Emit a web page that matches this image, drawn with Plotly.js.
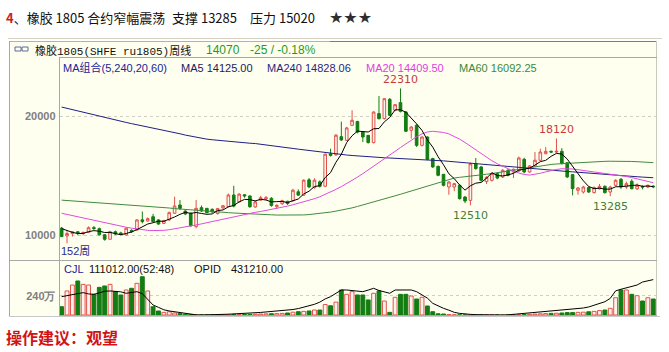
<!DOCTYPE html>
<html><head><meta charset="utf-8">
<script src="https://cdn.plot.ly/plotly-3.0.1.min.js"></script>
<style>html,body{margin:0;padding:0;background:#fff;}#chart{width:669px;height:352px;}</style>
</head><body><div id="chart"></div>
<script>
// ---- data (weekly, ru1805) ----
const weeks = Array.from({length:111},(_,i)=>i);
const openP = [10600,9950,10150,10300,10150,10250,10640,10560,10050,9670,10300,10200,10030,10420,10450,11300,11200,11560,11290,11000,
11290,11850,12540,12040,11850,10730,12320,12260,12180,11820,12300,12400,13380,12800,13400,13300,12380,12950,13050,13100,
12400,12650,12850,12900,13650,13370,14650,14000,14480,14110,16840,16750,18270,17960,19220,19540,18660,18380,17770,20200,
19780,21400,20480,21120,20340,18800,19220,17540,18240,16430,15780,15110,14050,14050,14190,13210,12930,16000,15730,14500,
14610,15170,14890,15450,15310,15390,16370,15310,15810,16290,16840,17040,16980,17040,16090,15090,13770,13630,14000,13580,
13900,14100,13630,14190,14700,14050,14530,13900,14080,14050,14120];
const highP = [10700,10400,10350,10350,10300,10750,10780,10650,10100,10380,10400,10300,10650,10500,11350,12000,11500,11800,11350,11300,
12000,13240,12960,12100,11900,12960,12500,12300,12250,12300,12550,13500,14150,13550,13450,13350,12950,13300,13300,13200,
12600,12980,12900,13900,13850,14700,14800,14780,14600,16850,17260,18500,19530,19100,20480,19600,18700,18400,20400,21680,
21500,21500,21000,22310,20400,19150,19300,18300,18300,16500,15850,15150,14550,14400,14250,13300,16100,16480,15800,14950,
15300,15250,15550,15550,15600,16600,16500,15900,16980,17260,17400,17100,18120,17300,16100,15100,14050,14150,14100,14100,
14300,14200,14150,14700,14800,14500,14700,14350,14200,14250,14200];
const lowP = [9860,9330,9900,10000,10000,10200,10450,9980,9550,9640,10030,10050,9980,10200,10400,11000,11150,11100,10880,10950,
11200,11800,12120,11700,10700,10600,11950,11850,11900,11750,12200,12350,12350,12750,13150,12300,12300,12900,12950,12400,
12200,12550,12550,12850,13300,13300,13950,13900,14000,14050,16600,16650,17900,17900,19150,18550,17820,17700,17700,19700,
19700,20000,20400,20300,18650,18100,17400,17450,16300,15650,14950,14100,13400,13700,13000,12700,12510,15500,14500,14300,
14500,14700,14800,14950,14800,15300,15200,15250,15750,16200,16800,16900,16900,15950,14800,13350,13400,13500,13550,13500,
13850,13500,13285,14100,13900,13900,13850,13800,13850,13950,13950];
const closeP = [9890,10150,10300,10200,10250,10640,10580,10050,9670,10300,10110,10110,10590,10300,11290,11150,11400,11150,10950,11230,
11900,12460,12260,11790,10810,12260,12040,11900,11960,12240,12480,13380,12450,13450,13300,12400,12800,13150,13150,12500,
12520,12900,12660,13780,13370,14620,14060,14620,14110,16800,16700,18390,17990,19000,19640,18650,18240,17770,20330,19780,
21450,20060,20950,20390,18720,19080,17540,18240,16370,15730,15030,14190,14470,14330,13070,12880,16000,15590,14610,14860,
15170,14800,15450,15030,15530,16480,15310,15810,16290,16980,17040,16980,17040,16010,14890,13910,13970,14050,13630,14000,
14100,13580,14050,14610,14050,14330,13910,14190,14050,14190,14070];
const ma5 = [10560,10400,10250,10150,10158,10308,10394,10344,10238,10248,10142,10048,10156,10282,10480,10688,10946,11058,11188,11176,
11326,11538,11760,11928,11844,11916,11832,11760,11794,12080,12124,12392,12502,12800,13012,12996,12880,13020,12960,12800,
12824,12844,12746,12872,13046,13466,13698,14090,14156,14842,15258,16124,16798,17776,18344,18734,18704,18660,18926,18954,
19514,19878,20514,20526,20314,19840,19336,18794,17990,17392,16582,15912,15158,14750,14218,13788,14150,14374,14430,14788,
15246,15006,14978,15062,15196,15458,15560,15632,15884,16174,16286,16620,16866,16810,16392,15766,15164,14566,14090,13912,
13950,13872,13872,14068,14078,14124,14190,14218,14106,14134,14082];
const ma20 = [11850,11750,11650,11550,11440,11330,11230,11130,11030,10930,10840,10760,10680,10600,10530,10470,10420,10400,10400,10420,
10470,10540,10620,10700,10780,10870,10960,11060,11160,11260,11360,11460,11560,11660,11760,11850,11930,12000,12080,12160,
12250,12350,12450,12560,12680,12800,12930,13070,13230,13420,13630,13850,14080,14330,14600,14880,15170,15470,15780,16090,
16400,16720,17040,17360,17670,17980,18260,18500,18660,18720,18700,18620,18500,18300,18060,17780,17480,17160,16840,16520,
16250,16000,15780,15560,15380,15220,15100,15050,15100,15200,15320,15430,15520,15580,15590,15560,15500,15440,15380,15320,
15260,15200,15140,15080,15010,14930,14840,14740,14640,14530,14410];
const ma60 = [12950,12920,12890,12860,12830,12800,12770,12740,12710,12680,12650,12620,12590,12560,12530,12500,12460,12420,12380,12340,
12290,12240,12200,12160,12120,12080,12050,12020,11990,11960,11930,11900,11870,11840,11815,11800,11780,11760,11740,11720,
11700,11690,11680,11680,11690,11710,11740,11780,11830,11880,11950,12030,12110,12200,12300,12420,12540,12660,12780,12900,
13030,13160,13300,13440,13580,13720,13860,14000,14150,14300,14440,14580,14700,14800,14860,14900,14950,15000,15060,15120,
15180,15250,15330,15420,15500,15580,15650,15720,15790,15850,15900,15940,15980,16010,16040,16070,16100,16130,16150,16170,
16190,16200,16210,16220,16220,16210,16190,16170,16140,16120,16092];
const ma240 = [20750,20640,20530,20420,20300,20190,20060,19950,19840,19740,19650,19560,19460,19360,19270,19170,19080,18990,18930,18830,
18730,18620,18510,18400,18300,18200,18120,18060,18010,17960,17920,17880,17840,17800,17760,17720,17690,17640,17580,17520,
17460,17400,17340,17280,17220,17160,17110,17050,16990,16940,16880,16830,16780,16730,16690,16650,16610,16580,16550,16520,
16500,16480,16460,16440,16420,16400,16390,16370,16340,16300,16270,16240,16200,16160,16120,16070,16030,15990,15950,15900,
15860,15820,15770,15730,15700,15670,15630,15600,15570,15530,15500,15460,15420,15390,15350,15320,15280,15250,15210,15180,
15140,15110,15070,15030,15000,14970,14940,14910,14880,14850,14828];
// volume (万) and open interest line
const volume = [103,299,373,423,381,373,257,344,361,381,290,249,311,332,394,476,299,103,50,33,
40,25,20,10,6,4,2,1,1,2,3,4,5,5,6,8,10,12,14,16,
18,20,25,35,41,45,50,62,62,130,115,160,311,257,290,249,249,187,270,299,
174,33,220,257,257,236,199,220,112,41,15,12,6,3,2,1,1,1,0,0,
0,0,0,1,2,3,5,8,12,15,18,20,22,25,30,30,33,35,40,45,
55,62,83,215,311,311,257,240,174,215,199];
const openInt = [228,240,255,268,278,262,257,275,295,299,295,288,270,280,290,265,200,124,95,65,
50,40,33,20,8,2,0,0,0,5,8,10,12,15,20,23,27,32,38,43,
47,52,57,68,80,95,110,133,160,200,228,270,311,311,305,298,290,310,332,305,
290,270,311,311,311,311,290,250,210,145,110,83,60,33,20,10,8,4,2,0,
0,0,0,2,8,15,25,33,38,42,46,50,54,62,70,78,85,87,100,120,
140,165,207,300,320,335,350,373,410,425,440];
const priceTicks = [10000,20000];
const volTicks = [240];
const volTickText = ['240万'];
const extremes = [{i:63,kind:'high'},{i:92,kind:'high'},{i:76,kind:'low'},{i:102,kind:'low'}];
const ratingText = '★★★';

// ---- style ----
const W=669,H=352;
const X=p=>p/W, Y=p=>1-p/H;
const RED='#e0524a', RED_FILL='#fff3ee', GREEN='#137d13';
const CREAM='#fffff0';
const LAT='Liberation Sans, Noto Sans CJK SC, sans-serif';
const CJK='Noto Sans CJK SC, sans-serif';

const up = closeP.map((c,i)=>c>=openP[i]);
const traces = [
 {type:'candlestick',x:weeks,open:openP,high:highP,low:lowP,close:closeP,xaxis:'x',yaxis:'y',
  increasing:{line:{color:RED,width:1},fillcolor:RED_FILL},
  decreasing:{line:{color:GREEN,width:1},fillcolor:GREEN},whiskerwidth:0,hoverinfo:'skip'},
 {type:'scatter',mode:'lines',x:weeks,y:ma240,line:{color:'#1f1f84',width:1},xaxis:'x',yaxis:'y',hoverinfo:'skip'},
 {type:'scatter',mode:'lines',x:weeks,y:ma60,line:{color:'#3f8a3f',width:1},xaxis:'x',yaxis:'y',hoverinfo:'skip'},
 {type:'scatter',mode:'lines',x:weeks,y:ma20,line:{color:'#e04ae0',width:1},xaxis:'x',yaxis:'y',hoverinfo:'skip'},
 {type:'scatter',mode:'lines',x:weeks,y:ma5,line:{color:'#000000',width:1},xaxis:'x',yaxis:'y',hoverinfo:'skip'},
 {type:'bar',x:weeks,y:volume,xaxis:'x2',yaxis:'y2',
  marker:{color:up.map(u=>u?RED_FILL:GREEN),line:{color:up.map(u=>u?RED:GREEN),width:1}},hoverinfo:'skip'},
 {type:'scatter',mode:'lines',x:weeks,y:openInt,xaxis:'x2',yaxis:'y2',line:{color:'#000',width:1},hoverinfo:'skip'}
];

function txt(x,y,text,size,color,family,extra){
  return Object.assign({xref:'paper',yref:'paper',x:X(x),y:Y(y),text:text,showarrow:false,
    xanchor:'left',yanchor:'middle',borderpad:0,font:{family:family||LAT,size:size||11,color:color||'#000'}},extra||{});
}
const annotations = [
  txt(5,17,'<span style="color:#cc1f1f;font-weight:bold">4</span>、橡胶 1805 合约窄幅震荡',13,'#111',CJK),
  txt(171,17,'支撑 13285',13,'#111',CJK),
  txt(249,17,'压力 15020',13,'#111',CJK),
  txt(328,17,ratingText,16,'#2e2e2e','DejaVu Sans, sans-serif'),
  txt(34,50,'橡胶<span style="font-family:Liberation Mono">1805(SHFE ru1805)</span>周线',11,'#111',CJK),
  txt(205,50,'14070',12,'#1e9a1e',LAT),
  txt(249,50,'-25 / -0.18%',12,'#1e9a1e',LAT),
  txt(62,68,'MA组合(5,240,20,60)',11,'#22229a',LAT),
  txt(180,68,'MA5 14125.00',11,'#1a1a60',LAT),
  txt(266,68,'MA240 14828.06',11,'#1f1f84',LAT),
  txt(365,68,'MA20 14409.50',11,'#e040e0',LAT),
  txt(458,68,'MA60 16092.25',11,'#3a8a3a',LAT),
  txt(60,251,'152周',11,'#2a2a8a',LAT),
  txt(63,269,'CJL',11,'#22229a',LAT),
  txt(88,269,'111012.00(52:48)',11,'#111',LAT),
  txt(193,269,'OPID',11,'#111',LAT),
  txt(230,269,'431210.00',11,'#111',LAT),
  txt(5,337,'<b>操作建议：观望</b>',16,'#d01414',CJK)
];
extremes.forEach(e=>{
  const isHigh = e.kind==='high';
  annotations.push({xref:'x',yref:'y',x:e.i,y:isHigh?highP[e.i]:lowP[e.i],
    text:String(isHigh?highP[e.i]:lowP[e.i]),showarrow:false,
    xanchor:'center',yanchor:isHigh?'bottom':'top',yshift:isHigh?1:-3,borderpad:0,
    font:{family:'DejaVu Sans, sans-serif',size:11,color:isHigh?'#c83a3a':'#3d7f3d'}});
});

function hline(y,x0,x1,color){return {type:'line',xref:'paper',yref:'paper',x0:X(x0),x1:X(x1),y0:Y(y),y1:Y(y),line:{color:color,width:1}};}
function vline(x,y0,y1,color){return {type:'line',xref:'paper',yref:'paper',x0:X(x),x1:X(x),y0:Y(y0),y1:Y(y1),line:{color:color,width:1}};}
const shapes = [
  {type:'rect',xref:'paper',yref:'paper',x0:X(9),x1:X(660),y0:Y(41),y1:Y(316),fillcolor:CREAM,line:{width:0},layer:'below'},
  hline(38.5,8,662,'#d8d2c2'),
  hline(41.5,9,330,'#b8b0a8'),
  hline(41.5,330,657,'#cc5a5a'),
  vline(9.5,41,316,'#a8a8a8'),
  vline(59.5,58,316,'#a8a8a8'),
  vline(656.5,41,316,'#c8c8c8'),
  hline(57.5,59,657,'#a8a8a8'),
  hline(260.5,9,657,'#a8a8a8'),
  hline(315.5,59,657,'#a8a8a8'),
  hline(316.5,9,660,'#c8c8c8'),
  {type:'rect',xref:'paper',yref:'paper',x0:X(15),x1:X(21),y0:Y(47),y1:Y(51),line:{color:'#5a6aa0',width:1},fillcolor:'rgba(0,0,0,0)'},
  {type:'rect',xref:'paper',yref:'paper',x0:X(22),x1:X(28),y0:Y(47),y1:Y(51),line:{color:'#5a6aa0',width:1},fillcolor:'rgba(0,0,0,0)'}
];

const xDom=[X(59.5),X(656.5)];
const tickFont={family:'Liberation Sans, sans-serif',size:11,color:'#808080',weight:'bold'};
const layout = {
  width:W,height:H,margin:{l:0,r:0,t:0,b:0},paper_bgcolor:'#ffffff',plot_bgcolor:'rgba(0,0,0,0)',
  showlegend:false,bargap:0.28,
  xaxis:{domain:xDom,range:[-0.4,110.6],visible:false,rangeslider:{visible:false},anchor:'y'},
  yaxis:{domain:[Y(260),Y(58)],range:[7933,24860],tickvals:priceTicks,ticktext:priceTicks.map(String),
    tickfont:tickFont,ticks:'',showgrid:true,gridcolor:'#cfcfc4',griddash:'dot',gridwidth:1,zeroline:false,showline:false,
    ticklabelstandoff:3,anchor:'x',fixedrange:true},
  xaxis2:{domain:xDom,range:[-0.4,110.6],visible:false,anchor:'y2'},
  yaxis2:{domain:[Y(315),Y(262)],range:[0,659],tickvals:volTicks,ticktext:volTickText,tickfont:tickFont,ticks:'',
    showgrid:true,gridcolor:'#cfcfc4',griddash:'dot',zeroline:false,showline:false,ticklabelstandoff:3,anchor:'x2'},
  shapes:shapes,annotations:annotations
};
Plotly.newPlot('chart',traces,layout,{staticPlot:true,displayModeBar:false});
</script></body></html>
